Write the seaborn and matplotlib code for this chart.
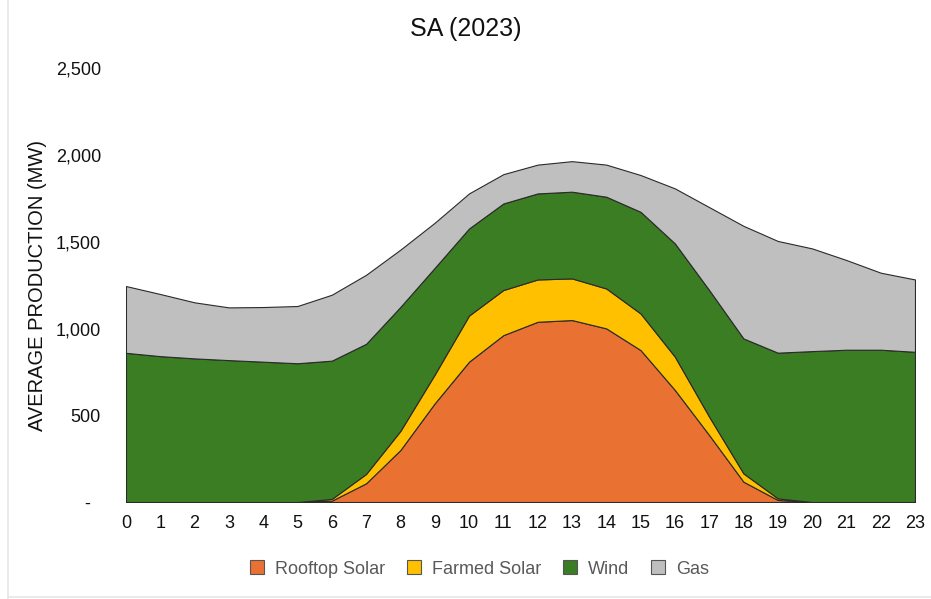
import matplotlib
matplotlib.use("Agg")
import matplotlib.pyplot as plt
import seaborn as sns
from matplotlib.patches import Patch
from matplotlib.lines import Line2D

# Average hourly production, SA 2023 (MW)
hours = list(range(24))
rooftop_solar = [0, 0, 0, 0, 0, 0, 8, 108, 300, 569, 809, 962,
                 1039, 1049, 1001, 876, 646, 386, 117, 12, 0, 0, 0, 0]
farmed_solar = [0, 0, 0, 0, 0, 0, 10, 54, 110, 166, 266, 260,
                244, 240, 230, 211, 192, 106, 48, 9, 0, 0, 0, 0]
wind = [860, 841, 828, 818, 809, 800, 797, 750, 715, 615, 502, 499,
        496, 500, 529, 586, 653, 730, 778, 840, 870, 878, 878, 866]
gas = [385, 358, 323, 304, 315, 330, 380, 398, 330, 260, 202, 169,
       166, 176, 185, 212, 317, 478, 649, 644, 592, 517, 444, 417]

series_names = ["Rooftop Solar", "Farmed Solar", "Wind", "Gas"]
y_ticks = [0, 500, 1000, 1500, 2000, 2500]
y_tick_labels = ["-  ", "500", "1,000", "1,500", "2,000", "2,500"]

colors = ["#E97132", "#FFC000", "#3A7D22", "#BFBFBF"]

sns.set_theme(style="white")
plt.rcParams['font.family'] = ['Liberation Sans', 'DejaVu Sans']

fig = plt.figure(figsize=(9.31, 5.99), dpi=100)
ax = fig.add_axes([0.1353, 0.1619, 0.8475, 0.724])

ax.stackplot(hours, rooftop_solar, farmed_solar, wind, gas,
             colors=colors, edgecolor="#2a2a2a", linewidth=0.8)

ax.set_xlim(0, 23)
ax.set_ylim(0, 2500)
ax.set_xticks(hours)
ax.set_xticklabels([str(h) for h in hours], fontsize=13, color="#111111")
ax.set_yticks(y_ticks)
ax.set_yticklabels(y_tick_labels, fontsize=13, color="#111111")
ax.tick_params(axis="x", length=0, pad=9)
ax.tick_params(axis="y", length=0, pad=18)
for s in ax.spines.values():
    s.set_visible(False)
ax.grid(False)

ax.set_ylabel("AVERAGE PRODUCTION (MW)", fontsize=14.5, color="#111111", labelpad=6)
fig.suptitle("SA (2023)", fontsize=18, color="#111111", y=0.972)

handles = [Patch(facecolor=c, edgecolor="#555555", linewidth=0.8) for c in colors]
leg = fig.legend(handles, series_names, loc="center", bbox_to_anchor=(0.515, 0.05),
                 ncol=4, frameon=False, fontsize=13, handlelength=0.8,
                 handleheight=0.8, handletextpad=0.6, columnspacing=1.2)
for t in leg.get_texts():
    t.set_color("#595959")

# faint page borders seen in the reference
fig.add_artist(Line2D([0.009, 0.009], [0.0, 1.0], color="#e6e6e6", linewidth=1.2))
fig.add_artist(Line2D([0.009, 1.0], [0.004, 0.004], color="#e6e6e6", linewidth=1.2))

fig.savefig("out.png", dpi=100)
